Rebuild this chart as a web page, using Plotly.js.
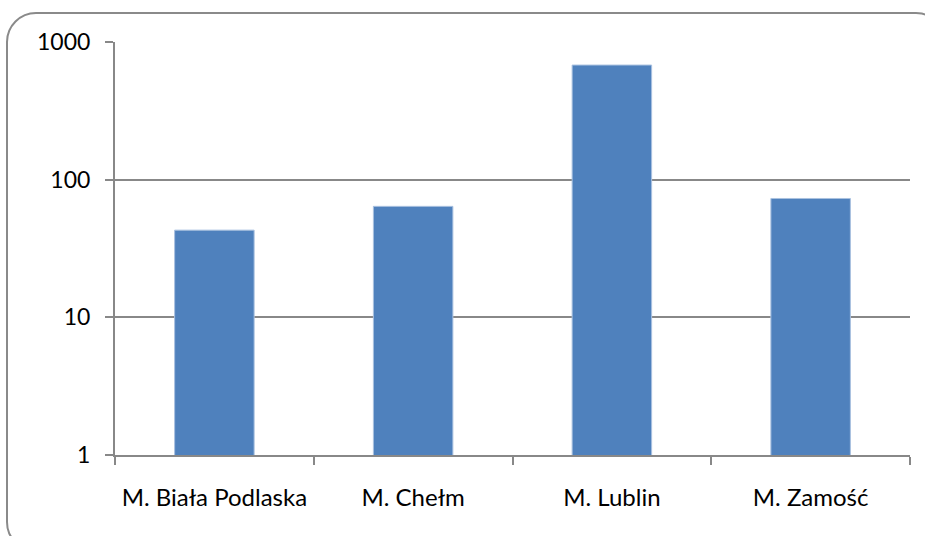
<!DOCTYPE html>
<html>
<head>
<meta charset="utf-8">
<script src="https://cdn.plot.ly/plotly-3.0.1.min.js"></script>
<style>
html,body{margin:0;padding:0;background:#fff;}
#frame{position:absolute;left:6px;top:12px;width:940px;height:540px;border:2px solid #8a8a8a;border-radius:30px;box-sizing:border-box;}
#chart{position:absolute;left:0;top:0;width:925px;height:536px;}
</style>
</head>
<body>
<div id="frame"></div>
<div id="chart"></div>
<script>
var categories = ["M. Biała Podlaska", "M. Chełm", "M. Lublin", "M. Zamość"];
var values = [43, 64, 680, 73];
var yTickVals = [1, 10, 100, 1000];
var yTickText = ["1", "10", "100", "1000"];

var trace = {
  type: "bar",
  x: categories,
  y: values,
  width: 0.4,
  marker: {color: "#4F81BD", line: {color: "#a9c1e0", width: 1}},
  hoverinfo: "x+y"
};

var layout = {
  width: 925, height: 536,
  margin: {l: 115, r: 15, t: 42, b: 81},
  paper_bgcolor: "rgba(0,0,0,0)",
  plot_bgcolor: "rgba(0,0,0,0)",
  showlegend: false,
  font: {family: "Lato, 'Open Sans', sans-serif", size: 24, color: "#000"},
  xaxis: {
    type: "category",
    showgrid: false,
    showline: true, linecolor: "#888", linewidth: 2,
    ticks: "outside", tickson: "boundaries", ticklen: 8, tickwidth: 2, tickcolor: "#888",
    tickfont: {size: 24},
    ticklabelstandoff: 20,
    zeroline: false
  },
  yaxis: {
    type: "log",
    range: [0, 3],
    tickvals: yTickVals, ticktext: yTickText,
    showgrid: true, gridcolor: "#888", gridwidth: 2,
    showline: true, linecolor: "#888", linewidth: 2,
    ticks: "outside", ticklen: 8, tickwidth: 2, tickcolor: "#888",
    tickfont: {size: 23},
    ticklabelstandoff: 10,
    zeroline: false
  }
};

Plotly.newPlot("chart", [trace], layout, {displayModeBar: false, staticPlot: true});
</script>
</body>
</html>
